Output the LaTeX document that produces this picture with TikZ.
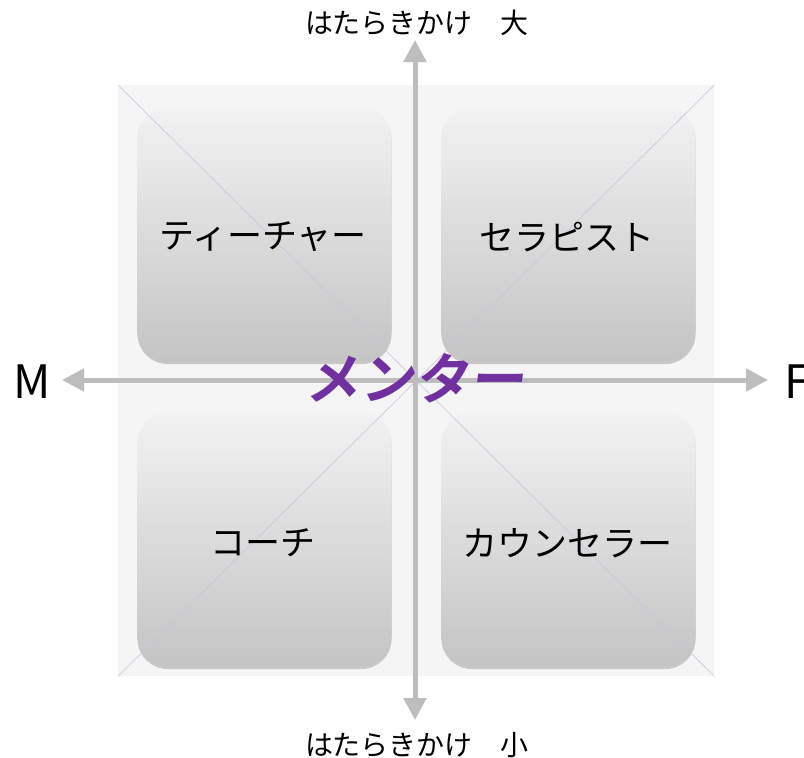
\documentclass[tikz,border=0pt]{standalone}
\usepackage{fontspec}
\newfontfamily\jp{Noto Sans CJK JP}
\newfontfamily\jpb{Noto Sans CJK JP Bold}
\usetikzlibrary{arrows.meta,shadows}
\definecolor{bgpanel}{HTML}{F5F5F5}
\definecolor{boxtop}{HTML}{F2F2F2}
\definecolor{boxbot}{HTML}{C4C4C4}
\definecolor{axisgray}{HTML}{BDBDBD}
\definecolor{diag}{HTML}{CBC4E2}
\definecolor{mentor}{HTML}{7030A0}
\tikzset{
  quad/.style={minimum width=254pt, minimum height=254pt, rounded corners=30pt,
    top color=boxtop, bottom color=boxbot, draw=none,
    drop shadow={shadow xshift=0pt, shadow yshift=-2.5pt, opacity=0.45, fill=gray!85},
    inner sep=0pt},
  qlabel/.style={font=\jp\fontsize{35}{35}\selectfont, text=black},
  axis/.style={draw=axisgray, line width=5pt, {Triangle[width=22pt,length=22pt]}-{Triangle[width=22pt,length=22pt]}},
  diagline/.style={draw=diag, line width=0.6pt},
  endlabel/.style={font=\jp\fontsize{46}{46}\selectfont, text=black},
  vlabel/.style={font=\jp\fontsize{28}{28}\selectfont, text=black},
}
\begin{document}
\begin{tikzpicture}[x=1pt,y=-1pt]
\useasboundingbox (0,0) rectangle (804,758);
\fill[white] (0,0) rectangle (804,758);
\node[fill=bgpanel, minimum width=596pt, minimum height=591pt, inner sep=0pt, anchor=north west] (bg) at (118,85) {};
\node[quad] (tl) at (264.5,234.5) {};
\node[quad] (tr) at (568.5,234.5) {};
\node[quad] (bl) at (264.5,539.5) {};
\node[quad] (br) at (568.5,539.5) {};
\draw[diagline] (bg.north west) -- (bg.south east);
\draw[diagline] (bg.north east) -- (bg.south west);
\node[qlabel] at (263,237) {ティーチャー};
\node[qlabel] at (567,237) {セラピスト};
\node[qlabel] at (263,543) {コーチ};
\node[qlabel] at (567,543) {カウンセラー};
\coordinate (vtop) at (415,40);
\coordinate (vbot) at (415,720);
\coordinate (hleft) at (62,380);
\coordinate (hright) at (768,380);
\draw[axis] (vbot) -- (vtop);
\draw[axis] (hleft) -- (hright);
\node[vlabel] (big) at (417,23) {はたらきかけ　大};
\node[vlabel] (small) at (417,745) {はたらきかけ　小};
\node[endlabel] (m) at (32,382) {M};
\node[endlabel, anchor=west, inner sep=0pt] (f) at (784,382) {F};
\node[font=\jpb\fontsize{55}{55}\selectfont, text=mentor, xslant=0.12] (men) at (418,378) {メンター};
\end{tikzpicture}
\end{document}
